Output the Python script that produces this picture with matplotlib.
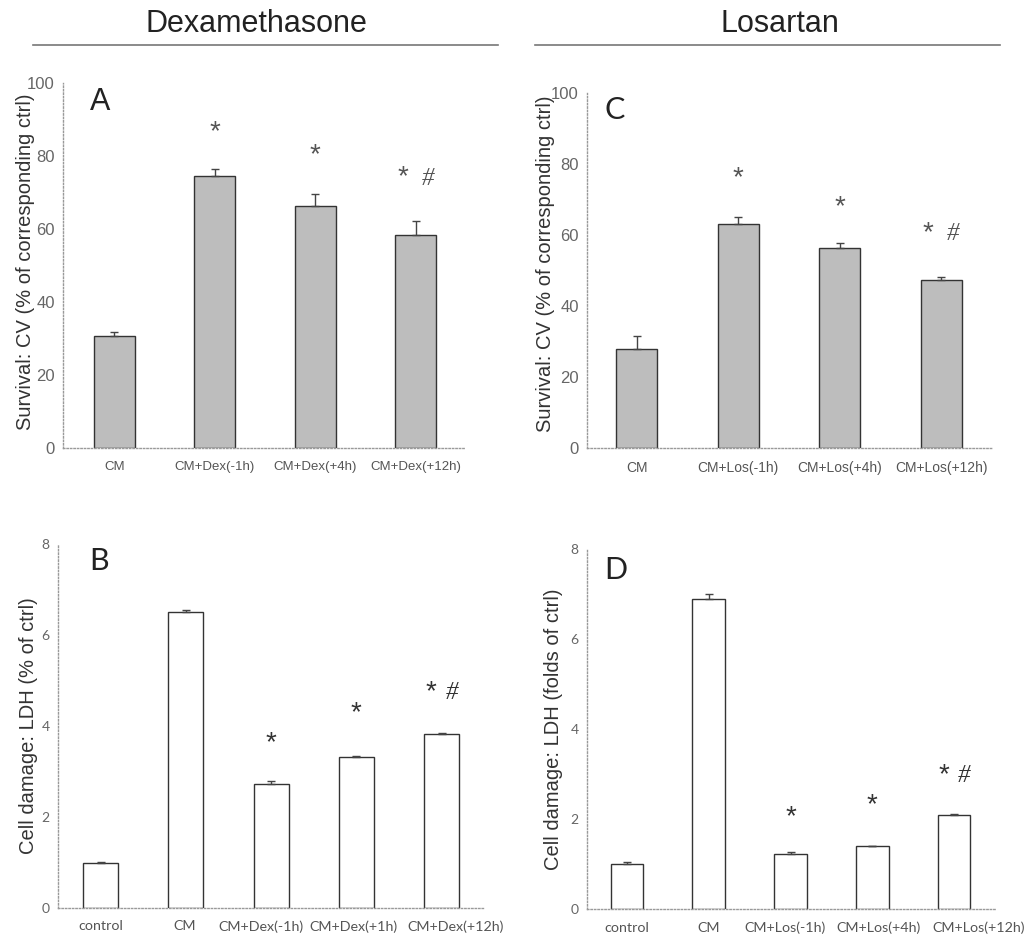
import matplotlib
matplotlib.use('Agg')
import matplotlib.pyplot as plt

W, H = 1031, 934

# survival (crystal violet), % of corresponding ctrl
dex_cv_labels = ['CM', 'CM+Dex(-1h)', 'CM+Dex(+4h)', 'CM+Dex(+12h)']
dex_cv = [30.6, 74.5, 66.2, 58.3]
dex_cv_err = [1.1, 2.0, 3.4, 3.8]

los_cv_labels = ['CM', 'CM+Los(-1h)', 'CM+Los(+4h)', 'CM+Los(+12h)']
los_cv = [28.0, 63.0, 56.2, 47.4]
los_cv_err = [3.5, 2.1, 1.6, 0.8]

# LDH release
dex_ldh_labels = ['control', 'CM', 'CM+Dex(-1h)', 'CM+Dex(+1h)', 'CM+Dex(+12h)']
dex_ldh = [1.0, 6.5, 2.72, 3.32, 3.82]
dex_ldh_err = [0.01, 0.06, 0.07, 0.02, 0.03]

los_ldh_labels = ['control', 'CM', 'CM+Los(-1h)', 'CM+Los(+4h)', 'CM+Los(+12h)']
los_ldh = [1.0, 6.9, 1.23, 1.39, 2.09]
los_ldh_err = [0.04, 0.1, 0.04, 0.02, 0.02]

# significance marks: (bar index, text)
dex_cv_sig = [(1, '*'), (2, '*'), (3, '*#')]
los_cv_sig = [(1, '*'), (2, '*'), (3, '*#')]
dex_ldh_sig = [(2, '*'), (3, '*'), (4, '*#')]
los_ldh_sig = [(2, '*'), (3, '*'), (4, '*#')]
dex_cv_sig_y = [86.6, 80.3, 74.2]
los_cv_sig_y = [76.1, 67.9, 60.6]
dex_ldh_sig_y = [3.63, 4.29, 4.75]
los_ldh_sig_y = [2.04, 2.31, 2.98]

# label shift (in bar units) so the crowded labels sit as in the figure
ldh_label_shift = [0, -0.02, -0.12, -0.03, 0.17]
ldh_label_shift_los = [0, 0, -0.07, 0.08, 0.3]

arial = ['Liberation Sans', 'DejaVu Sans']
calib = ['Lato', 'Open Sans', 'DejaVu Sans']


def px_axes(left, right, top, bottom):
    return fig.add_axes([left / W, 1 - bottom / H, (right - left) / W, (bottom - top) / H])


def panel(ax, labels, vals, errs, ylim, yticks, xlim, width, fill, tick_font, tick_size,
          xtick_size, ylabel, ylab_xy, letter, letter_xy, letter_font, sig, sig_y, sig_color,
          label_shift=None):
    x = list(range(len(vals)))
    ax.bar(x, vals, width=width, color=fill, edgecolor='#333333', linewidth=1.0, zorder=2)
    ax.errorbar(x, vals, yerr=[[0] * len(errs), errs], fmt='none', ecolor='#444444',
                elinewidth=1.0, capsize=3, capthick=1.0, zorder=3)
    ax.set_xlim(*xlim)
    ax.set_ylim(*ylim)
    ax.set_yticks(yticks)
    if label_shift is None:
        label_shift = [0] * len(x)
    ax.set_xticks([a + b for a, b in zip(x, label_shift)])
    ax.set_xticklabels(labels, fontfamily=tick_font, fontsize=xtick_size, color='#555555')
    for t in ax.get_yticklabels():
        t.set_fontfamily(tick_font)
        t.set_fontsize(tick_size)
        t.set_color('#666666')
    ax.tick_params(axis='both', length=0, pad=6)
    ax.tick_params(axis='x', pad=9)
    for s in ['top', 'right']:
        ax.spines[s].set_visible(False)
    for s in ['left', 'bottom']:
        ax.spines[s].set_linestyle((0, (1, 1.5)))
        ax.spines[s].set_color('#999999')
        ax.spines[s].set_linewidth(1.0)
    ax.set_ylabel(ylabel, fontfamily=arial, fontsize=14.5, color='#333333')
    ax.yaxis.set_label_coords(*ylab_xy)
    ax.text(letter_xy[0], letter_xy[1], letter, transform=ax.transAxes,
            fontfamily=letter_font, fontsize=22, color='#222222', va='center', ha='center')
    for (i, s), yy in zip(sig, sig_y):
        if s == '*':
            ax.text(i, yy, '*', ha='center', va='center', fontfamily=arial,
                    fontsize=20, color=sig_color)
        else:
            ax.text(i - 0.13, yy, '*', ha='center', va='center', fontfamily=arial,
                    fontsize=20, color=sig_color)
            ax.text(i + 0.12, yy - (ylim[1] * 0.004), '#', ha='center', va='center',
                    fontfamily=['Liberation Serif', 'DejaVu Serif'], style='italic',
                    fontsize=18, color=sig_color)


fig = plt.figure(figsize=(W / 100, H / 100), dpi=100)

# headers
fig.text(256 / W, 1 - 24 / H, 'Dexamethasone', ha='center', va='center',
         fontfamily=arial, fontsize=22, color='#222222')
fig.text(780 / W, 1 - 24 / H, 'Losartan', ha='center', va='center',
         fontfamily=arial, fontsize=22, color='#222222')
fig.add_artist(plt.Line2D([33 / W, 498 / W], [1 - 45 / H, 1 - 45 / H], color='#777777', lw=1.2))
fig.add_artist(plt.Line2D([535 / W, 1000 / W], [1 - 45 / H, 1 - 45 / H], color='#777777', lw=1.2))

axA = px_axes(63, 465, 83, 448)
panel(axA, dex_cv_labels, dex_cv, dex_cv_err, (0, 100), [0, 20, 40, 60, 80, 100],
      (-0.51, 3.49), 0.41, '#bdbdbd', arial, 12, 9.5,
      'Survival: CV (% of corresponding ctrl)', ((35 - 63) / 402, 0.51),
      'A', ((100 - 63) / 402, 1 - (102 - 83) / 365), arial, dex_cv_sig, dex_cv_sig_y, '#555555')

axC = px_axes(587, 993, 93, 448)
panel(axC, los_cv_labels, los_cv, los_cv_err, (0, 100), [0, 20, 40, 60, 80, 100],
      (-0.49, 3.51), 0.40, '#bdbdbd', arial, 12, 10,
      'Survival: CV (% of corresponding ctrl)', ((555 - 587) / 406, 0.52),
      'C', ((615 - 587) / 406, 1 - (110 - 93) / 355), calib, los_cv_sig, los_cv_sig_y, '#555555')

axB = px_axes(58, 485, 544, 908)
panel(axB, dex_ldh_labels, dex_ldh, dex_ldh_err, (0, 8), [0, 2, 4, 6, 8],
      (-0.50, 4.51), 0.41, 'white', calib, 10, 10.3,
      'Cell damage: LDH (% of ctrl)', ((38 - 58) / 427, 0.5),
      'B', ((99 - 58) / 427, 1 - (561 - 544) / 364), calib, dex_ldh_sig, dex_ldh_sig_y, '#333333',
      ldh_label_shift)

axD = px_axes(587, 995, 549, 909)
panel(axD, los_ldh_labels, los_ldh, los_ldh_err, (0, 8), [0, 2, 4, 6, 8],
      (-0.49, 4.50), 0.40, 'white', calib, 10, 10.3,
      'Cell damage: LDH (folds of ctrl)', ((563 - 587) / 408, 0.5),
      'D', ((616 - 587) / 408, 1 - (570 - 549) / 360), calib, los_ldh_sig, los_ldh_sig_y, '#333333',
      ldh_label_shift_los)

fig.savefig('out.png', dpi=100)
